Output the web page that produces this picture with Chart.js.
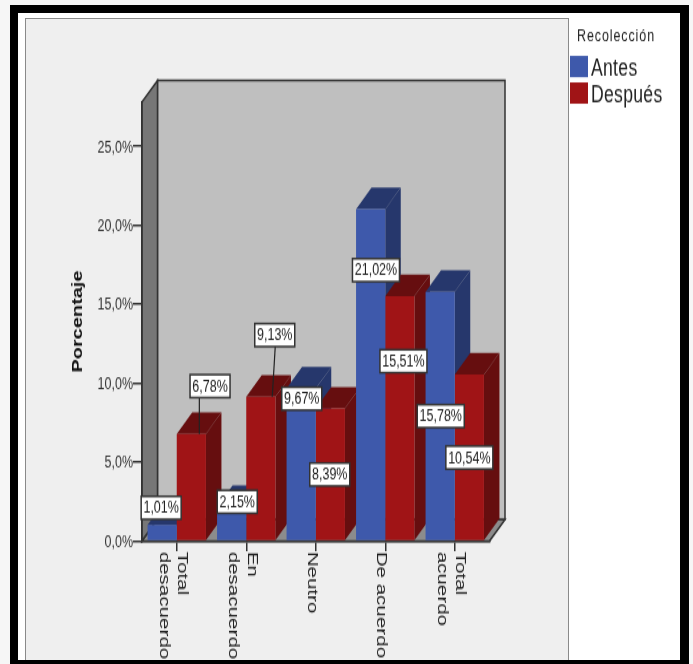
<!DOCTYPE html>
<html>
<head>
    <meta charset="utf-8">
    <title>Recolección</title>
    <script src="https://cdn.jsdelivr.net/npm/chart.js"></script>
    <style>
        html, body { margin: 0; padding: 0; background: #fff; overflow: hidden; }
        .sheet { position: relative; width: 693px; height: 664px; overflow: hidden; background: #f6f6f6; }
        .inner { position: absolute; left: 18px; top: 13px; width: 662px; height: 647px; background: #fff; }
        .panel {
            position: absolute; left: 25px; top: 18px; width: 542px; height: 642px;
            background: #efefef; border: 1px solid #8a8a8a; border-bottom: none;
        }
        .frame {
            position: absolute; left: 10px; top: 5px; width: 662px; height: 647px;
            border: 8px solid #000; border-right-width: 9px; border-bottom-width: 8px;
        }
        /* the whole plot is drawn wide and then stretched tall */
        .stretch { position: absolute; left: 0; top: 0; width: 693px; height: 500px; transform: scaleY(1.328); transform-origin: 0 0; }
    </style>
</head>
<body>
    <div class="sheet">
        <div class="inner"></div>
        <div class="panel"></div>
        <div class="stretch"><canvas id="chart" width="693" height="500"></canvas></div>
        <div class="frame"></div>
    </div>

    <script>
        const categories = [['Total', 'desacuerdo'], ['En', 'desacuerdo'], ['Neutro'], ['De acuerdo'], ['Total', 'acuerdo']];
        const seriesNames = ['Antes', 'Después'];
        const antes = [1.01, 2.15, 9.67, 21.02, 15.78];
        const despues = [6.78, 9.13, 8.39, 15.51, 10.54];
        const antesLabels = ['1,01%', '2,15%', '9,67%', '21,02%', '15,78%'];
        const despuesLabels = ['6,78%', '9,13%', '8,39%', '15,51%', '10,54%'];
        const yTickLabels = ['0,0%', '5,0%', '10,0%', '15,0%', '20,0%', '25,0%'];
        const legendTitle = 'Recolección';
        const axisTitle = 'Porcentaje';

        const STRETCH = 1.328;
        const DEPTH_X = 15.5;
        const DEPTH_Y = 16.2;
        const LINE = '#333333';
        const FONT = '"Liberation Sans", Arial, sans-serif';

        const faces = [
            { front: '#3e59ab', side: '#26376c' },
            { front: '#a01416', side: '#660e0f' }
        ];

        // label box offsets from the bar's top centre
        const boxShift = [
            [[-1, -13], [5.6, -4], [0.6, 7.8], [5.3, 46], [0.6, 93.6]],
            [[18.7, -36], [13.9, -46.5], [-0.6, 49.7], [3.6, 49], [0, 62.5]]
        ];
        // callout lines, only the two boxes that sit clear of their bars
        const callouts = { '1,0': { tip: 8, start: 8 }, '1,1': { tip: 11.4, start: 14.4 } };

        function polygon(ctx, pts, fill, stroke) {
            ctx.beginPath();
            pts.forEach((p, i) => i ? ctx.lineTo(p[0], p[1]) : ctx.moveTo(p[0], p[1]));
            ctx.closePath();
            ctx.fillStyle = fill;
            ctx.fill();
            if (stroke) {
                ctx.strokeStyle = stroke;
                ctx.lineWidth = 1.5;
                ctx.stroke();
            }
        }

        const box3d = {
            id: 'box3d',
            // back wall, left wall and floor
            beforeDraw(chart) {
                const { ctx, chartArea: a } = chart;
                const dx = DEPTH_X, dy = DEPTH_Y;
                polygon(ctx, [[a.left + dx, a.top - dy], [a.right + dx, a.top - dy], [a.right + dx, a.bottom - dy], [a.left + dx, a.bottom - dy]], '#bfbfbf', LINE);
                polygon(ctx, [[a.left, a.top], [a.left + dx, a.top - dy], [a.left + dx, a.bottom - dy], [a.left, a.bottom]], '#777777', LINE);
                polygon(ctx, [[a.left, a.bottom], [a.left + dx, a.bottom - dy], [a.right + dx, a.bottom - dy], [a.right, a.bottom]], '#8c8c8c', LINE);
            },
            // tops and sides, left to right so nearer ones cover farther ones
            beforeDatasetsDraw(chart) {
                const { ctx } = chart;
                const dx = DEPTH_X, dy = DEPTH_Y;
                categories.forEach((_, i) => {
                    chart.data.datasets.forEach((ds, d) => {
                        const bar = chart.getDatasetMeta(d).data[i];
                        const l = bar.x - bar.width / 2, r = bar.x + bar.width / 2;
                        polygon(ctx, [[l, bar.y], [l + dx, bar.y - dy], [r + dx, bar.y - dy], [r, bar.y]], faces[d].side);
                        polygon(ctx, [[r, bar.y], [r + dx, bar.y - dy], [r + dx, bar.base - dy], [r, bar.base]], faces[d].side);
                    });
                });
            },
            afterDatasetsDraw(chart) {
                const { ctx } = chart;
                ctx.save();
                ctx.font = '12.5px ' + FONT;
                ctx.textAlign = 'center';
                ctx.textBaseline = 'middle';
                const h = 17.3;
                [antesLabels, despuesLabels].forEach((labels, d) => {
                    labels.forEach((text, i) => {
                        const bar = chart.getDatasetMeta(d).data[i];
                        const w = text.length > 5 ? 47 : 40;
                        const cx = bar.x + boxShift[d][i][0];
                        const cy = bar.y + boxShift[d][i][1];
                        const call = callouts[d + ',' + i];
                        if (call) {
                            ctx.beginPath();
                            ctx.moveTo(bar.x + call.start, cy + h / 2);
                            ctx.lineTo(bar.x + call.tip, bar.y);
                            ctx.strokeStyle = '#222';
                            ctx.lineWidth = 1.2;
                            ctx.stroke();
                        }
                        ctx.fillStyle = '#fff';
                        ctx.strokeStyle = '#333';
                        ctx.lineWidth = 1.5;
                        ctx.fillRect(cx - w / 2, cy - h / 2, w, h);
                        ctx.strokeRect(cx - w / 2, cy - h / 2, w, h);
                        ctx.fillStyle = '#222';
                        ctx.fillText(text, cx, cy + 0.5);
                    });
                });
                ctx.restore();
            },
            // category names and legend
            afterDraw(chart) {
                const { ctx } = chart;
                const xs = chart.scales.x;
                const lineH = 18.6;
                ctx.save();
                ctx.font = '15.5px ' + FONT;
                ctx.fillStyle = '#222';
                ctx.textAlign = 'left';
                ctx.textBaseline = 'middle';
                categories.forEach((lines, i) => {
                    const mid = xs.getPixelForTick(i) - 3.5;
                    lines.forEach((line, n) => {
                        ctx.save();
                        ctx.translate(mid + (lines.length - 1) / 2 * lineH - n * lineH, xs.top + 8);
                        ctx.rotate(Math.PI / 2);
                        ctx.fillText(line, 0, 0);
                        ctx.restore();
                    });
                });

                ctx.letterSpacing = '0.9px';
                ctx.font = '12.5px ' + FONT;
                ctx.fillText(legendTitle, 577, 36.5 / STRETCH);
                ctx.letterSpacing = '0.3px';
                ctx.font = '17.6px ' + FONT;
                seriesNames.forEach((name, d) => {
                    const y = (d ? 93 : 66.5) / STRETCH;
                    ctx.fillStyle = faces[d].front;
                    ctx.fillRect(570, y - 8, 18, 16);
                    ctx.fillStyle = '#222';
                    ctx.fillText(name, 591, y + 2.5);
                });
                ctx.restore();
            }
        };

        new Chart(document.getElementById('chart'), {
            type: 'bar',
            data: {
                labels: categories,
                datasets: [
                    { label: seriesNames[0], data: antes, backgroundColor: faces[0].front },
                    { label: seriesNames[1], data: despues, backgroundColor: faces[1].front }
                ]
            },
            plugins: [box3d],
            options: {
                responsive: false,
                animation: false,
                categoryPercentage: 0.84,
                barPercentage: 1,
                layout: { padding: { left: 0, top: 102 / STRETCH, right: 693 - 489.5, bottom: 0 } },
                plugins: { legend: { display: false }, tooltip: { enabled: false } },
                scales: {
                    x: {
                        afterFit: s => { s.height = 500 - 541 / STRETCH; },
                        grid: { offset: false, drawOnChartArea: false, tickLength: 7.5, color: LINE, lineWidth: 1.5 },
                        border: { color: LINE, width: 1.5 },
                        ticks: { display: false }
                    },
                    y: {
                        min: 0,
                        max: 27.8,
                        afterFit: s => { s.width = 142; },
                        title: {
                            display: true,
                            text: axisTitle,
                            color: '#111',
                            font: { family: FONT, size: 15, weight: 'bold' },
                            padding: { top: 69, bottom: 0 }
                        },
                        grid: { drawOnChartArea: false, tickLength: 9, color: LINE, lineWidth: 1.5 },
                        border: { color: LINE, width: 1.5 },
                        ticks: {
                            stepSize: 5,
                            includeBounds: false,
                            padding: 0,
                            labelOffset: 1,
                            color: '#333',
                            font: { family: FONT, size: 12.5 },
                            callback: (v, i) => yTickLabels[i]
                        }
                    }
                }
            }
        });
    </script>
</body>
</html>
